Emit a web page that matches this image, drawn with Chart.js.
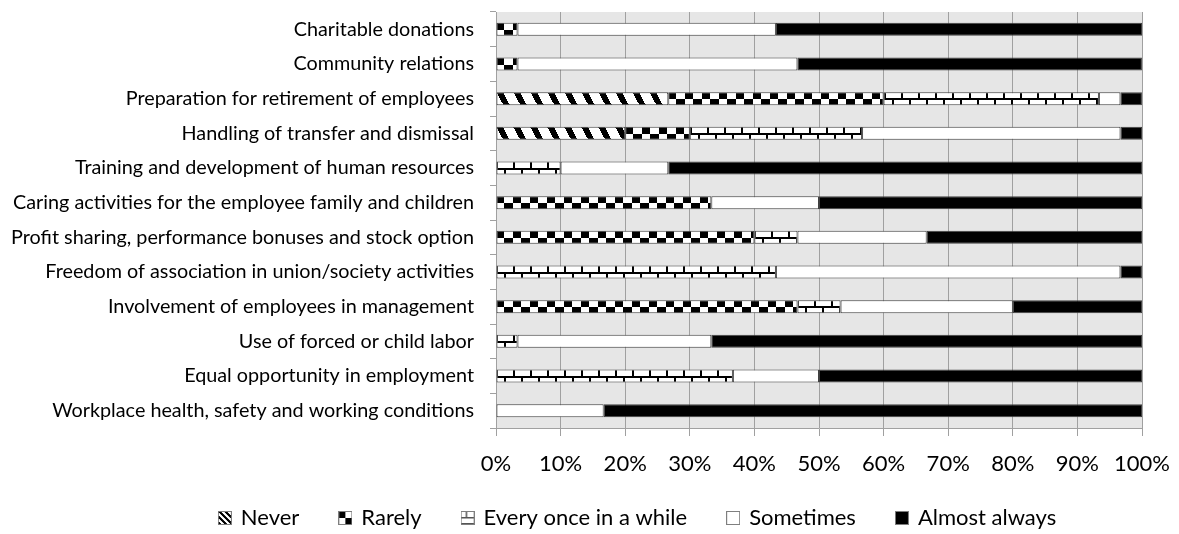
<!DOCTYPE html>
<html>
<head>
<meta charset="utf-8">
<script src="https://cdn.jsdelivr.net/npm/chart.js@4.4.1/dist/chart.umd.min.js"></script>
<style>
  html, body { margin: 0; padding: 0; background: #fff; }
  #wrap { position: relative; width: 1179px; height: 534px; }
</style>
</head>
<body>
<div id="wrap"><canvas id="barChart"></canvas></div>
<script>
// categories, top to bottom
const categories = [
  'Charitable donations',
  'Community relations',
  'Preparation for retirement of employees',
  'Handling of transfer and dismissal',
  'Training and development of human resources',
  'Caring activities for the employee family and children',
  'Profit sharing, performance bonuses and stock option',
  'Freedom of association in union/society activities',
  'Involvement of employees in management',
  'Use of forced or child labor',
  'Equal opportunity in employment',
  'Workplace health, safety and working conditions'
];
const seriesNames = ['Never', 'Rarely', 'Every once in a while', 'Sometimes', 'Almost always'];

// percentages per category
const never        = [0, 0, 26.67, 20, 0, 0, 0, 0, 0, 0, 0, 0];
const rarely       = [3.33, 3.33, 33.33, 10, 0, 33.33, 40, 0, 46.67, 0, 0, 0];
const everyOnce    = [0, 0, 33.33, 26.67, 10, 0, 6.67, 43.33, 6.67, 3.33, 36.67, 0];
const sometimes    = [40, 43.33, 3.33, 40, 16.67, 16.67, 20, 53.33, 26.67, 30, 13.33, 16.67];
const almostAlways = [56.67, 53.33, 3.33, 3.33, 73.33, 50, 33.33, 3.33, 20, 66.67, 50, 83.33];
const series = [never, rarely, everyOnce, sometimes, almostAlways];

const FONT = "Lato, 'Noto Sans', sans-serif";
const BAR_RATIO = 0.375;

function makeTile(w, h, paint) {
  const c = document.createElement('canvas');
  c.width = w; c.height = h;
  const g = c.getContext('2d');
  g.fillStyle = '#fff';
  g.fillRect(0, 0, w, h);
  g.fillStyle = '#000';
  paint(g, w, h);
  return c;
}

// fill tiles for the patterned series
const tiles = [
  makeTile(17, 14, (g, w, h) => {
    for (let y = 0; y < h; y++)
      for (let x = 0; x < w; x++)
        if ((((x - 0.55 * y) % w) + w) % w < 6.5) g.fillRect(x, y, 1, 1);
  }),
  makeTile(17, 14, (g) => {
    g.fillRect(0, 0, 8, 7);
    g.fillRect(8, 7, 9, 7);
  }),
  makeTile(17, 14, (g) => {
    g.fillRect(0, 6, 17, 2);
    g.fillRect(0, 0, 2, 7);
    g.fillRect(8, 7, 2, 7);
  })
];

function makeIcon(paint) {
  const c = document.createElement('canvas');
  c.width = 14; c.height = 14;
  const g = c.getContext('2d');
  g.fillStyle = '#fff';
  g.fillRect(0, 0, 14, 14);
  g.fillStyle = '#000';
  paint(g);
  g.strokeStyle = '#7f7f7f';
  g.lineWidth = 1;
  g.strokeRect(0.5, 0.5, 13, 13);
  return c;
}

const legendIcons = [
  makeIcon((g) => {
    for (let y = 1; y < 13; y++)
      for (let x = 1; x < 13; x++)
        if ((((x - y) % 6) + 6) % 6 < 3) g.fillRect(x, y, 1, 1);
  }),
  makeIcon((g) => { g.fillRect(1, 1, 6, 6); g.fillRect(7, 7, 6, 6); }),
  makeIcon((g) => {
    g.fillStyle = '#555';
    g.fillRect(1, 6, 12, 1.5);
    g.fillRect(5, 1, 1.5, 5);
    g.fillRect(1, 12, 12, 1);
  }),
  makeIcon(() => {}),
  makeIcon((g) => { g.fillRect(1, 1, 12, 12); })
];

function patternFill(s) {
  return (ctx) => {
    const chart = ctx.chart;
    if (ctx.type !== 'data' || !chart.scales.x || !chart.scales.y) return '#fff';
    const i = ctx.dataIndex;
    let start = 0;
    for (let d = 0; d < s; d++) start += series[d][i];
    const x0 = Math.round(chart.scales.x.getPixelForValue(start));
    const band = chart.scales.y.height / categories.length;
    const top = Math.round(chart.scales.y.getPixelForValue(i) - band * BAR_RATIO / 2);
    const p = chart.ctx.createPattern(tiles[s], 'repeat');
    p.setTransform(new DOMMatrix().translate(x0, top));
    return p;
  };
}

const fills = [patternFill(0), patternFill(1), patternFill(2), '#ffffff', '#000000'];

const plotBackground = {
  id: 'plotBackground',
  beforeDraw(chart) {
    const { ctx, chartArea: a } = chart;
    ctx.save();
    ctx.fillStyle = '#e6e6e6';
    ctx.fillRect(a.left, a.top, a.width, a.height);
    ctx.restore();
  }
};

// fixed legend height, legend nudged up and a bit right of the canvas middle
const legendBox = {
  id: 'legendBox',
  beforeLayout(chart) {
    const lg = chart.legend;
    if (lg && !lg._fixed) {
      const fit = lg.fit.bind(lg);
      lg.fit = function () { fit(); this.height = 56; };
      lg._fixed = true;
    }
  },
  afterLayout(chart) {
    const lg = chart.legend;
    lg.left += 67;
    lg.right += 67;
    lg.top -= 12;
  }
};

new Chart(document.getElementById('barChart'), {
  type: 'bar',
  data: {
    labels: categories,
    datasets: series.map((vals, s) => ({
      label: seriesNames[s],
      data: vals.map(v => v || null),
      backgroundColor: fills[s],
      borderColor: '#404040',
      borderWidth: 1,
      borderSkipped: false,
      categoryPercentage: 1,
      barPercentage: BAR_RATIO
    }))
  },
  options: {
    indexAxis: 'y',
    responsive: true,
    maintainAspectRatio: false,
    animation: false,
    events: [],
    layout: { padding: { top: 12, right: 37, bottom: 0, left: 0 } },
    scales: {
      x: {
        stacked: true,
        min: 0,
        max: 100,
        ticks: {
          stepSize: 10,
          callback: v => v + '%',
          font: { family: FONT, size: 22 },
          color: '#000',
          padding: 15
        },
        grid: { color: '#a0a0a0', tickLength: 8 },
        border: { color: '#a0a0a0' },
        afterFit: s => { s.height = 50; s.paddingLeft = 0; s.paddingRight = 0; }
      },
      y: {
        stacked: true,
        ticks: { font: { family: FONT, size: 19.8 }, color: '#000', padding: 16 },
        grid: { drawOnChartArea: false, tickLength: 6, color: '#a0a0a0' },
        border: { color: '#a0a0a0' },
        afterFit: s => { s.width = 496; s.paddingTop = 0; s.paddingBottom = 0; }
      }
    },
    plugins: {
      legend: {
        position: 'bottom',
        labels: {
          usePointStyle: true,
          boxWidth: 10,
          boxHeight: 10,
          padding: 41,
          font: { family: FONT, size: 22 },
          color: '#000',
          generateLabels: () => seriesNames.map((name, i) => ({
            text: name,
            pointStyle: legendIcons[i],
            datasetIndex: i,
            fillStyle: '#fff',
            strokeStyle: '#7f7f7f',
            lineWidth: 0,
            hidden: false
          }))
        }
      },
      tooltip: { enabled: false }
    }
  },
  plugins: [plotBackground, legendBox]
});
</script>
</body>
</html>
